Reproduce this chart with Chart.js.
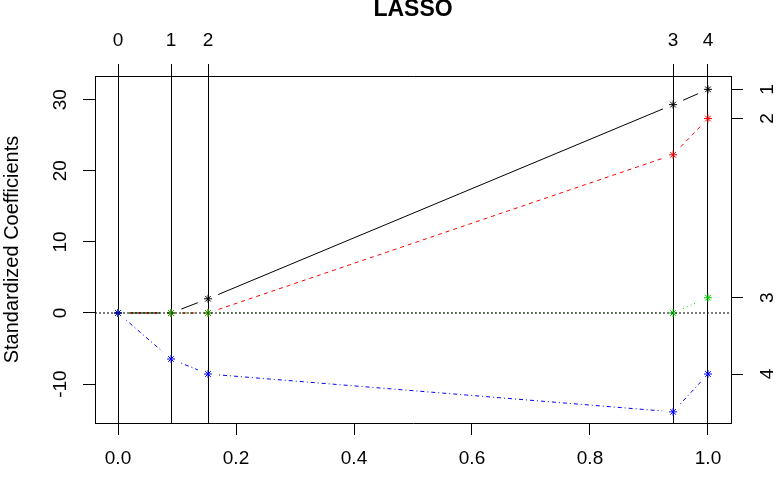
<!DOCTYPE html>
<html>
<head>
<meta charset="utf-8">
<script src="https://cdn.jsdelivr.net/npm/chart.js@4"></script>
<style>
  body { margin: 0; background: #fff; }
  #wrap { width: 780px; height: 479px; }
</style>
</head>
<body>
<div id="wrap"><canvas id="lasso" width="780" height="479"></canvas></div>
<script>
// fraction of final |beta| at each LARS step
const steps = [0, 0.0899, 0.1526, 0.9408, 1.0];
const stepLabels = ['0', '1', '2', '3', '4'];
// standardized coefficients along the path
const coef1 = [0, 0, 2.0, 29.3, 31.45];
const coef2 = [0, 0, 0, 22.25, 27.35];
const coef3 = [0, 0, 0, 0, 2.15];
const coef4 = [0, -6.47, -8.58, -13.9, -8.58];
const varLabels = ['1', '2', '3', '4'];
const xTicks = [0, 0.2, 0.4, 0.6, 0.8, 1.0];
const yTicks = [-10, 0, 10, 20, 30];

const FONT = '"Liberation Sans", Arial, sans-serif';
const xMin = -0.039, xMax = 1.039;
const yMin = -15.47, yMax = 33.33;

const coefs = [coef1, coef2, coef3, coef4];
const colors = ['#000000', '#ff0000', '#00cd00', '#0000ff'];
const dashes = [[], [4, 4], [1, 3], [1, 3, 4, 3]];
const finals = coefs.map(c => c[c.length - 1]);

const toPoints = ys => steps.map((x, i) => ({ x: x, y: ys[i] }));

// stars only; the connecting lines are drawn by the plugin below with
// R's type="b" gaps around each point
const datasets = coefs.map((c, k) => ({
  data: toPoints(c),
  showLine: false,
  borderColor: colors[k],
  backgroundColor: colors[k],
  pointStyle: 'star',
  pointRadius: 4,
  pointBorderWidth: 1,
  pointBorderColor: colors[k],
  order: 4 - k
}));

// dotted zero line
datasets.push({
  data: [{ x: xMin, y: 0 }, { x: xMax, y: 0 }],
  showLine: true,
  borderColor: '#000',
  borderWidth: 1,
  borderDash: [2, 2],
  pointRadius: 0,
  order: 0
});

const GAP = 11;
const gappedLines = {
  id: 'gappedLines',
  beforeDatasetsDraw(chart) {
    const { ctx, chartArea, scales } = chart;
    ctx.save();
    ctx.beginPath();
    ctx.rect(chartArea.left, chartArea.top, chartArea.right - chartArea.left, chartArea.bottom - chartArea.top);
    ctx.clip();
    ctx.lineWidth = 1;
    coefs.forEach((c, k) => {
      ctx.strokeStyle = colors[k];
      ctx.setLineDash(dashes[k]);
      for (let i = 0; i < steps.length - 1; i++) {
        const x0 = scales.x.getPixelForValue(steps[i]);
        const y0 = scales.y.getPixelForValue(c[i]);
        const x1 = scales.x.getPixelForValue(steps[i + 1]);
        const y1 = scales.y.getPixelForValue(c[i + 1]);
        const len = Math.hypot(x1 - x0, y1 - y0);
        if (len <= 2 * GAP) continue;
        const ux = (x1 - x0) / len, uy = (y1 - y0) / len;
        ctx.beginPath();
        ctx.moveTo(x0 + ux * GAP, y0 + uy * GAP);
        ctx.lineTo(x1 - ux * GAP, y1 - uy * GAP);
        ctx.stroke();
      }
    });
    ctx.restore();
  }
};

const tickFont = { family: FONT, size: 19 };
const setTicks = vals => scale => { scale.ticks = vals.map(v => ({ value: v })); };

new Chart(document.getElementById('lasso'), {
  type: 'scatter',
  data: { datasets: datasets },
  plugins: [gappedLines],
  options: {
    responsive: false,
    animation: false,
    layout: { padding: 0 },
    plugins: { legend: { display: false }, tooltip: { enabled: false } },
    scales: {
      x: {
        type: 'linear', position: 'bottom', min: xMin, max: xMax,
        afterBuildTicks: setTicks(xTicks),
        afterFit: s => { s.height = 56; },
        border: { display: true, color: '#000', width: 1 },
        grid: { drawOnChartArea: false, tickLength: 12, tickColor: '#000' },
        ticks: { color: '#000', font: tickFont, padding: 12, maxRotation: 0,
                 callback: v => v.toFixed(1) }
      },
      xTop: {
        type: 'linear', position: 'top', min: xMin, max: xMax,
        afterBuildTicks: setTicks(steps),
        afterFit: s => { s.height = 76; },
        border: { display: true, color: '#000', width: 1 },
        grid: { drawOnChartArea: true, color: '#000', lineWidth: 1, tickLength: 12, tickColor: '#000' },
        ticks: { color: '#000', font: tickFont, padding: 12, maxRotation: 0,
                 callback: (v, i) => stepLabels[i] },
        title: { display: true, text: 'LASSO', color: '#000', padding: 0,
                 font: { family: FONT, size: 23, weight: 'bold', lineHeight: 0.85 } }
      },
      y: {
        type: 'linear', position: 'left', min: yMin, max: yMax,
        afterBuildTicks: setTicks(yTicks),
        afterFit: s => { s.width = 95; },
        border: { display: true, color: '#000', width: 1 },
        grid: { drawOnChartArea: false, tickLength: 12, tickColor: '#000' },
        ticks: { color: '#000', font: tickFont, padding: 9, minRotation: 90, maxRotation: 90,
                 crossAlign: 'center' },
        title: { display: true, text: 'Standardized Coefficients', color: '#000', padding: 0,
                 font: { family: FONT, size: 20 } }
      },
      yRight: {
        type: 'linear', position: 'right', min: yMin, max: yMax,
        afterBuildTicks: setTicks(finals),
        afterFit: s => { s.width = 49; },
        border: { display: true, color: '#000', width: 1 },
        grid: { drawOnChartArea: false, tickLength: 12, tickColor: '#000' },
        ticks: { color: '#000', font: tickFont, padding: 19, minRotation: 90, maxRotation: 90,
                 crossAlign: 'center', callback: (v, i) => varLabels[i] }
      }
    }
  }
});
</script>
</body>
</html>
